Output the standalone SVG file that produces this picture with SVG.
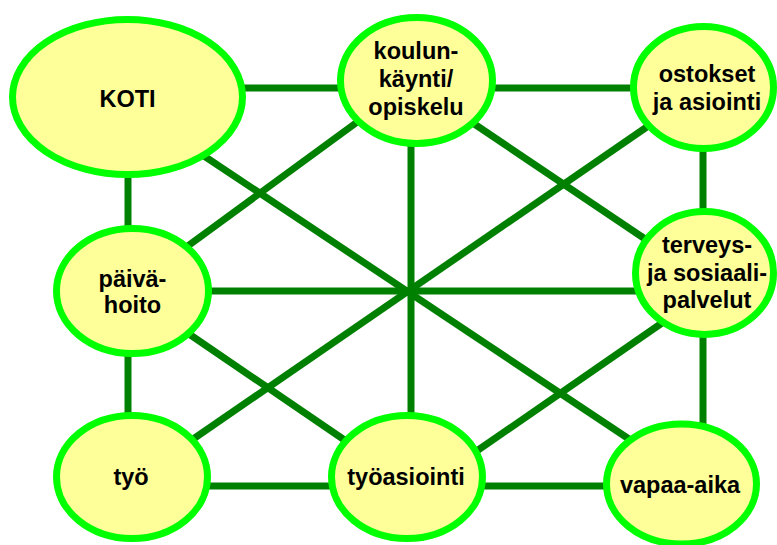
<svg xmlns="http://www.w3.org/2000/svg" width="777" height="545" viewBox="0 0 777 545">
  <style>
    .link { stroke: #008000; stroke-width: 7; fill: none; }
    .node { fill: #FFFF99; stroke: #00FF00; stroke-width: 7; }
    .label { font-family: "Liberation Sans", Arial, sans-serif; font-weight: bold; font-size: 23.5px; fill: #000; text-anchor: middle; }
  </style>
  <rect width="777" height="545" fill="#fff"/>
  <g id="connectors">
    <!-- grid edges -->
    <line class="link" x1="200" y1="88" x2="660" y2="88"/>
    <line class="link" x1="128" y1="140" x2="128" y2="460"/>
    <line class="link" x1="703" y1="120" x2="703" y2="450"/>
    <line class="link" x1="180" y1="486" x2="640" y2="486"/>
    <line class="link" x1="150" y1="291" x2="680" y2="291"/>
    <line class="link" x1="411" y1="120" x2="411" y2="450"/>
    <!-- diagonals through the centre -->
    <line class="link" x1="180" y1="140" x2="650" y2="453"/>
    <line class="link" x1="170" y1="455" x2="670" y2="111"/>
    <!-- inner diamond -->
    <line class="link" x1="170" y1="259" x2="375" y2="109"/>
    <line class="link" x1="455" y1="111" x2="660" y2="249"/>
    <line class="link" x1="170" y1="321" x2="365" y2="454"/>
    <line class="link" x1="455" y1="466" x2="675" y2="314"/>
  </g>
  <g id="koti">
    <ellipse class="node" cx="127.5" cy="97" rx="115" ry="77.5"/>
    <text class="label" x="127.5" y="107">KOTI</text>
  </g>
  <g id="koulunkaynti">
    <ellipse class="node" cx="416.5" cy="80.5" rx="76" ry="63"/>
    <text class="label" x="416" y="59">koulun-</text>
    <text class="label" x="416" y="87">käynti/</text>
    <text class="label" x="416" y="115">opiskelu</text>
  </g>
  <g id="ostokset">
    <ellipse class="node" cx="703.5" cy="87.5" rx="70" ry="61"/>
    <text class="label" x="707" y="82">ostokset</text>
    <text class="label" x="707" y="110">ja asiointi</text>
  </g>
  <g id="terveys">
    <ellipse class="node" cx="704.5" cy="273" rx="69" ry="61.5"/>
    <text class="label" x="707" y="253">terveys-</text>
    <text class="label" x="707" y="281">ja sosiaali-</text>
    <text class="label" x="707" y="308">palvelut</text>
  </g>
  <g id="paivahoito">
    <ellipse class="node" cx="132.5" cy="291" rx="76" ry="62.5"/>
    <text class="label" x="132.5" y="287">päivä-</text>
    <text class="label" x="132.5" y="313">hoito</text>
  </g>
  <g id="tyo">
    <ellipse class="node" cx="132" cy="477" rx="75.5" ry="61.5"/>
    <text class="label" x="131" y="485">työ</text>
  </g>
  <g id="tyoasiointi">
    <ellipse class="node" cx="407" cy="477" rx="75.5" ry="61.5"/>
    <text class="label" x="406" y="485">työasiointi</text>
  </g>
  <g id="vapaa-aika">
    <ellipse class="node" cx="681.5" cy="484" rx="75" ry="60"/>
    <text class="label" x="680" y="493">vapaa-aika</text>
  </g>
</svg>
